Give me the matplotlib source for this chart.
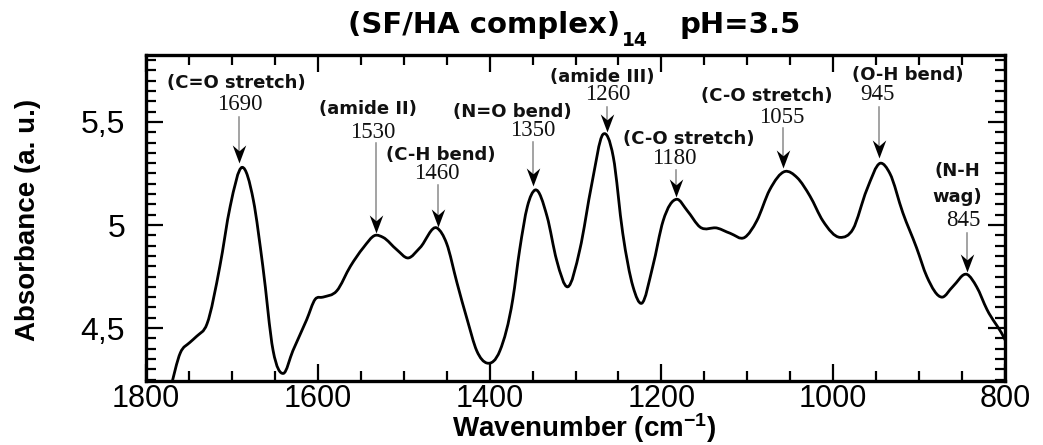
import numpy as np
import matplotlib
matplotlib.use("Agg")
import matplotlib.pyplot as plt
from matplotlib.path import Path
from matplotlib.patches import PathPatch
from matplotlib.ticker import MultipleLocator, FixedLocator, FixedFormatter

plt.rcParams["mathtext.fontset"] = "custom"
plt.rcParams["mathtext.rm"] = "Liberation Sans:bold"
plt.rcParams["mathtext.bf"] = "Liberation Sans:bold"
plt.rcParams["mathtext.it"] = "Liberation Sans:bold"

# ---- data ----
wavenumber = [1772, 1760, 1749, 1741, 1729, 1714, 1702, 1688, 1675, 1664, 1652, 1640,
              1629, 1613, 1603, 1594, 1578, 1562, 1547, 1533, 1524, 1508, 1495, 1481,
              1461, 1450, 1438, 1426, 1415, 1403, 1388, 1373, 1365, 1356, 1347, 1333,
              1322, 1309, 1295, 1281, 1268, 1256, 1245, 1233, 1223, 1210, 1198, 1182,
              1170, 1155, 1135, 1120, 1103, 1089, 1074, 1056, 1042, 1027, 1012, 992,
              977, 961, 945, 934, 919, 903, 891, 873, 861, 844, 833, 821, 802, 795]
absorbance = [4.20, 4.38, 4.43, 4.46, 4.52, 4.80, 5.09, 5.28, 5.12, 4.80, 4.39, 4.28,
              4.39, 4.54, 4.64, 4.65, 4.68, 4.80, 4.89, 4.95, 4.94, 4.88, 4.84, 4.89,
              4.985, 4.91, 4.72, 4.54, 4.39, 4.33, 4.39, 4.64, 4.88, 5.09, 5.17, 5.04,
              4.83, 4.70, 4.88, 5.20, 5.44, 5.33, 4.96, 4.70, 4.62, 4.80, 5.02, 5.125,
              5.07, 4.99, 4.985, 4.96, 4.94, 5.02, 5.17, 5.26, 5.23, 5.14, 5.02, 4.94,
              4.98, 5.17, 5.30, 5.25, 5.06, 4.89, 4.75, 4.65, 4.70, 4.76, 4.70, 4.59,
              4.46, 4.40]

band_names = ["(C=O stretch)", "(amide II)", "(C-H bend)", "(N=O bend)", "(amide III)",
              "(C-O stretch)", "(C-O stretch)", "(O-H bend)", "(N-H\nwag)"]
band_values = ["1690", "1530", "1460", "1350", "1260", "1180", "1055", "945", "845"]

x_ticks = [1800, 1600, 1400, 1200, 1000, 800]
x_ticklabels = ["1800", "1600", "1400", "1200", "1000", "800"]
y_ticks = [4.5, 5.0, 5.5]
y_ticklabels = ["4,5", "5", "5,5"]

# ---- layout (annotation placement, in data coords) ----
# (name_x, name_y, value_x, value_y, arrow_x, arrow_y0, arrow_y1)
ann_layout = [
    (1695, 5.689, 1691, 5.583, 1692, 5.524, 5.301),
    (1542, 5.563, 1536, 5.451, 1532, 5.398, 4.961),
    (1457, 5.340, 1461, 5.252, 1460, 5.194, 4.990),
    (1374, 5.548, 1350, 5.461, 1349, 5.403, 5.190),
    (1269, 5.718, 1263, 5.631, 1263, 5.573, 5.451),
    (1168, 5.418, 1185, 5.325, 1183, 5.267, 5.136),
    (1077, 5.626, 1060, 5.524, 1058, 5.471, 5.277),
    (913, 5.728, 948, 5.631, 947, 5.573, 5.325),
    (856, 5.200, 848, 5.024, 844, 4.961, 4.772),
]

W, H = 1043, 445
fig = plt.figure(figsize=(W / 100, H / 100), dpi=100)
ax = fig.add_axes([146 / W, 1 - 381 / H, (1005 - 146) / W, (381 - 55) / H])

# smooth curve through the read points (cubic Hermite segments as Bezier path)
x = np.asarray(wavenumber, float)
y = np.asarray(absorbance, float)
n = len(x)
m = np.zeros(n)
for i in range(n):
    if i == 0:
        m[i] = (y[1] - y[0]) / (x[1] - x[0])
    elif i == n - 1:
        m[i] = (y[-1] - y[-2]) / (x[-1] - x[-2])
    else:
        h0, h1 = x[i] - x[i - 1], x[i + 1] - x[i]
        d0, d1 = (y[i] - y[i - 1]) / h0, (y[i + 1] - y[i]) / h1
        m[i] = (d0 * h1 + d1 * h0) / (h0 + h1)
verts = [(x[0], y[0])]
codes = [Path.MOVETO]
for i in range(n - 1):
    dx = x[i + 1] - x[i]
    verts += [(x[i] + dx / 3, y[i] + m[i] * dx / 3),
              (x[i + 1] - dx / 3, y[i + 1] - m[i + 1] * dx / 3),
              (x[i + 1], y[i + 1])]
    codes += [Path.CURVE4] * 3
ax.add_patch(PathPatch(Path(verts, codes), fill=False, lw=2.0, color="black",
                       capstyle="round", joinstyle="round", zorder=3))

ax.set_xlim(1800, 800)
ax.set_ylim(4.243, 5.825)

ax.xaxis.set_major_locator(FixedLocator(x_ticks))
ax.xaxis.set_major_formatter(FixedFormatter(x_ticklabels))
ax.xaxis.set_minor_locator(MultipleLocator(50))
ax.yaxis.set_major_locator(FixedLocator(y_ticks))
ax.yaxis.set_major_formatter(FixedFormatter(y_ticklabels))
ax.yaxis.set_minor_locator(MultipleLocator(0.05))

ax.tick_params(which="both", direction="in", top=True, right=True, width=1.6, color="black")
ax.tick_params(which="major", length=12)
ax.tick_params(which="minor", length=7)
ax.tick_params(axis="x", which="major", labelsize=22, pad=2)
ax.tick_params(axis="y", which="major", labelsize=23, pad=15)
for lab in ax.get_xticklabels() + ax.get_yticklabels():
    lab.set_fontfamily("Liberation Sans")
for s in ax.spines.values():
    s.set_linewidth(2.4)

# annotations
head = Path([(0, 0), (-0.75, 2.0), (0, 1.35), (0.75, 2.0), (0, 0)],
            [Path.MOVETO, Path.LINETO, Path.LINETO, Path.LINETO, Path.CLOSEPOLY])
lab_kw = dict(ha="center", va="center", fontsize=13, fontweight="bold",
              family="DejaVu Sans", color="#111")
for name, val, (nx, ny, vx, vy, axx, ay0, ay1) in zip(band_names, band_values, ann_layout):
    if "\n" in name:
        parts = name.split("\n")
        ax.text(nx, 5.262, parts[0], **lab_kw)
        ax.text(nx, 5.136, parts[1], **lab_kw)
    else:
        ax.text(nx, ny, name, **lab_kw)
    ax.text(vx, vy, val, ha="center", va="center", fontsize=16.5,
            family="Liberation Serif", color="#111")
    ax.plot([axx, axx], [ay0, ay1 + 0.04], color="#8a8a8a", lw=1.1, zorder=4)
    ax.plot([axx], [ay1], marker=head, markersize=26, color="black",
            markeredgewidth=0, zorder=5)

fig.text(584 / W, 1 - 437 / H, r"Wavenumber (cm$^{-1}$)", ha="center", va="baseline",
         fontsize=20, fontweight="bold", family="Liberation Sans")
fig.text(28 / W, 1 - 220 / H, "Absorbance (a. u.)", ha="center", va="center",
         rotation=90, fontsize=20, fontweight="bold", family="Liberation Sans")

# title: main text, subscript, pH; group centred like the reference
renderer = fig.canvas.get_renderer()
t1 = fig.text(0, 1 - 25 / H, "(SF/HA complex)", ha="left", va="center",
              fontsize=21, fontweight="bold", family="DejaVu Sans")
t2 = fig.text(0, 1 - 41 / H, "14", ha="left", va="center",
              fontsize=13.5, fontweight="bold", family="DejaVu Sans")
t3 = fig.text(0, 1 - 25 / H, "pH=3.5", ha="left", va="center",
              fontsize=21, fontweight="bold", family="DejaVu Sans")
w1 = t1.get_window_extent(renderer).width
w2 = t2.get_window_extent(renderer).width
w3 = t3.get_window_extent(renderer).width
gap_sub, gap_ph = 2, 32
total = w1 + gap_sub + w2 + gap_ph + w3
x0 = 574.5 - total / 2
t1.set_x(x0 / W)
t2.set_x((x0 + w1 + gap_sub) / W)
t3.set_x((x0 + w1 + gap_sub + w2 + gap_ph) / W)

fig.savefig("out.png", dpi=100)
